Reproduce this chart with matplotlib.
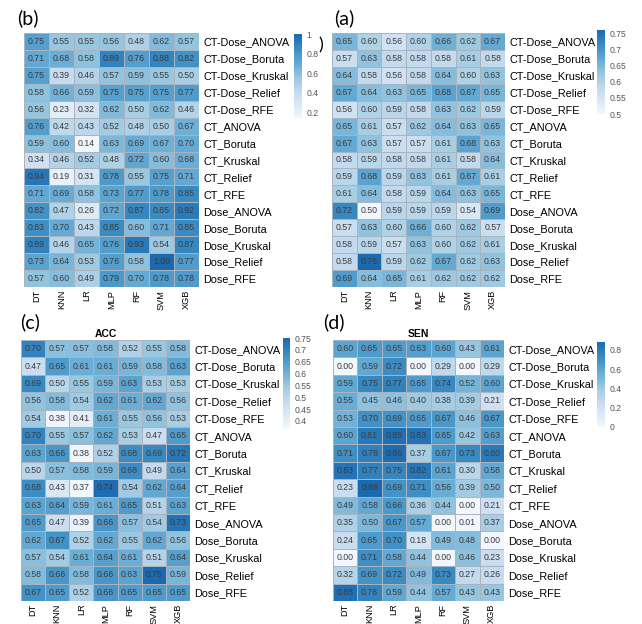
import matplotlib
matplotlib.use("Agg")
import matplotlib.pyplot as plt
import numpy as np
from matplotlib.cm import ScalarMappable
from matplotlib.colors import LinearSegmentedColormap, Normalize

W, H = 642, 624

models = ["DT", "KNN", "LR", "MLP", "RF", "SVM", "XGB"]
feature_sets = [
    "CT-Dose_ANOVA", "CT-Dose_Boruta", "CT-Dose_Kruskal", "CT-Dose_Relief", "CT-Dose_RFE",
    "CT_ANOVA", "CT_Boruta", "CT_Kruskal", "CT_Relief", "CT_RFE",
    "Dose_ANOVA", "Dose_Boruta", "Dose_Kruskal", "Dose_Relief", "Dose_RFE",
]

# panel (b)
values_b = [
    [0.75, 0.55, 0.55, 0.56, 0.48, 0.62, 0.57],
    [0.71, 0.68, 0.58, 0.89, 0.76, 0.88, 0.82],
    [0.75, 0.39, 0.46, 0.57, 0.59, 0.55, 0.50],
    [0.58, 0.66, 0.59, 0.75, 0.75, 0.75, 0.77],
    [0.56, 0.23, 0.32, 0.62, 0.50, 0.62, 0.46],
    [0.76, 0.42, 0.43, 0.52, 0.48, 0.50, 0.67],
    [0.59, 0.60, 0.14, 0.63, 0.69, 0.67, 0.70],
    [0.34, 0.46, 0.52, 0.48, 0.72, 0.60, 0.68],
    [0.94, 0.19, 0.31, 0.78, 0.55, 0.75, 0.71],
    [0.71, 0.69, 0.58, 0.73, 0.77, 0.78, 0.85],
    [0.82, 0.47, 0.26, 0.72, 0.87, 0.85, 0.92],
    [0.83, 0.70, 0.43, 0.85, 0.60, 0.71, 0.85],
    [0.89, 0.46, 0.65, 0.76, 0.93, 0.54, 0.87],
    [0.73, 0.64, 0.53, 0.76, 0.58, 1.00, 0.77],
    [0.57, 0.60, 0.49, 0.79, 0.70, 0.78, 0.78],
]
ticks_b = [0.2, 0.4, 0.6, 0.8, 1.0]
tick_labels_b = ["0.2", "0.4", "0.6", "0.8", "1"]

# panel (a)
values_a = [
    [0.65, 0.60, 0.56, 0.60, 0.66, 0.62, 0.67],
    [0.57, 0.63, 0.58, 0.58, 0.58, 0.61, 0.58],
    [0.64, 0.58, 0.56, 0.58, 0.64, 0.60, 0.63],
    [0.67, 0.64, 0.63, 0.65, 0.68, 0.67, 0.65],
    [0.56, 0.60, 0.59, 0.58, 0.63, 0.62, 0.59],
    [0.65, 0.61, 0.57, 0.62, 0.64, 0.63, 0.65],
    [0.67, 0.63, 0.57, 0.57, 0.61, 0.68, 0.63],
    [0.58, 0.59, 0.58, 0.58, 0.61, 0.58, 0.64],
    [0.59, 0.68, 0.59, 0.63, 0.61, 0.67, 0.61],
    [0.61, 0.64, 0.58, 0.59, 0.64, 0.63, 0.65],
    [0.72, 0.50, 0.59, 0.59, 0.59, 0.54, 0.69],
    [0.57, 0.63, 0.60, 0.66, 0.60, 0.62, 0.57],
    [0.58, 0.59, 0.57, 0.63, 0.60, 0.62, 0.61],
    [0.58, 0.76, 0.59, 0.62, 0.67, 0.62, 0.63],
    [0.69, 0.64, 0.65, 0.61, 0.62, 0.62, 0.62],
]
ticks_a = [0.5, 0.55, 0.6, 0.65, 0.7, 0.75]
tick_labels_a = ["0.5", "0.55", "0.6", "0.65", "0.7", "0.75"]

# panel (c) ACC
values_acc = [
    [0.70, 0.57, 0.57, 0.58, 0.52, 0.55, 0.58],
    [0.47, 0.65, 0.61, 0.61, 0.59, 0.58, 0.63],
    [0.69, 0.50, 0.55, 0.59, 0.63, 0.53, 0.53],
    [0.56, 0.58, 0.54, 0.62, 0.61, 0.62, 0.56],
    [0.54, 0.38, 0.41, 0.61, 0.55, 0.56, 0.53],
    [0.70, 0.55, 0.57, 0.62, 0.53, 0.47, 0.65],
    [0.63, 0.66, 0.38, 0.52, 0.68, 0.69, 0.72],
    [0.50, 0.57, 0.58, 0.59, 0.68, 0.49, 0.64],
    [0.68, 0.43, 0.37, 0.74, 0.54, 0.62, 0.64],
    [0.63, 0.64, 0.59, 0.61, 0.65, 0.51, 0.63],
    [0.65, 0.47, 0.39, 0.66, 0.57, 0.54, 0.73],
    [0.62, 0.67, 0.52, 0.62, 0.55, 0.62, 0.56],
    [0.57, 0.54, 0.61, 0.64, 0.61, 0.51, 0.64],
    [0.58, 0.66, 0.58, 0.66, 0.63, 0.75, 0.59],
    [0.67, 0.65, 0.52, 0.66, 0.65, 0.65, 0.65],
]
ticks_acc = [0.4, 0.45, 0.5, 0.55, 0.6, 0.65, 0.7, 0.75]
tick_labels_acc = ["0.4", "0.45", "0.5", "0.55", "0.6", "0.65", "0.7", "0.75"]

# panel (d) SEN
values_sen = [
    [0.60, 0.65, 0.65, 0.63, 0.60, 0.43, 0.61],
    [0.00, 0.59, 0.72, 0.00, 0.29, 0.00, 0.29],
    [0.59, 0.75, 0.77, 0.65, 0.74, 0.52, 0.60],
    [0.55, 0.45, 0.46, 0.40, 0.38, 0.39, 0.21],
    [0.53, 0.70, 0.69, 0.65, 0.67, 0.46, 0.67],
    [0.60, 0.81, 0.85, 0.83, 0.65, 0.42, 0.63],
    [0.71, 0.78, 0.86, 0.37, 0.67, 0.73, 0.80],
    [0.83, 0.77, 0.75, 0.82, 0.61, 0.30, 0.58],
    [0.23, 0.88, 0.69, 0.71, 0.56, 0.39, 0.50],
    [0.49, 0.58, 0.66, 0.36, 0.44, 0.00, 0.21],
    [0.35, 0.50, 0.67, 0.57, 0.00, 0.01, 0.37],
    [0.24, 0.65, 0.70, 0.18, 0.49, 0.48, 0.00],
    [0.00, 0.71, 0.58, 0.44, 0.00, 0.46, 0.23],
    [0.32, 0.69, 0.72, 0.49, 0.73, 0.27, 0.26],
    [0.85, 0.76, 0.59, 0.44, 0.57, 0.43, 0.43],
]
ticks_sen = [0.0, 0.2, 0.4, 0.6, 0.8]
tick_labels_sen = ["0", "0.2", "0.4", "0.6", "0.8"]

plt.rcParams["font.family"] = ["Liberation Sans", "DejaVu Sans"]

cmap = LinearSegmentedColormap.from_list("blues", plt.cm.Blues(np.linspace(0.03, 0.78, 256)))


def px_axes(fig, x0, y0, x1, y1):
    # boxes are given in picture pixels, top-left origin
    return fig.add_axes([x0 / W, 1 - y1 / H, (x1 - x0) / W, (y1 - y0) / H])


def draw_heatmap(fig, values, box, cbar_box, ticks, tick_labels, title=None):
    data = np.array(values)
    vmin, vmax = data.min(), data.max()
    n_rows, n_cols = data.shape

    ax = px_axes(fig, *box)
    ax.pcolormesh(data, cmap=cmap, vmin=vmin, vmax=vmax, edgecolors="#aab4be", linewidth=0.6)
    ax.set_xlim(0, n_cols)
    ax.set_ylim(n_rows, 0)
    for i in range(n_rows):
        for j in range(n_cols):
            ax.text(j + 0.5, i + 0.5, f"{data[i, j]:.2f}", ha="center", va="center",
                    fontsize=6.3, color="#3c3c3c")

    ax.yaxis.tick_right()
    ax.set_yticks(np.arange(n_rows) + 0.5, feature_sets, fontsize=7.8)
    ax.set_xticks(np.arange(n_cols) + 0.5, models, rotation=90, fontsize=6.6)
    ax.tick_params(axis="y", length=0, pad=3)
    ax.tick_params(axis="x", length=0, pad=2)
    for spine in ax.spines.values():
        spine.set_visible(False)
    if title:
        ax.set_title(title, fontsize=7.5, fontweight="bold", pad=2)

    cax = px_axes(fig, *cbar_box)
    cb = fig.colorbar(ScalarMappable(Normalize(vmin, vmax), cmap), cax=cax, ticks=ticks)
    cb.outline.set_visible(False)
    cb.ax.set_yticklabels(tick_labels)
    cb.ax.tick_params(length=0, labelsize=6.2, labelcolor="#555555", pad=3)
    return ax


fig = plt.figure(figsize=(W / 100, H / 100), dpi=100)

draw_heatmap(fig, values_b, (24, 33, 199, 287), (294, 34, 302, 118), ticks_b, tick_labels_b)
draw_heatmap(fig, values_a, (332, 33, 505, 287), (597, 30, 605, 114), ticks_a, tick_labels_a)
draw_heatmap(fig, values_acc, (21, 340, 190, 601), (283, 338, 290, 428), ticks_acc, tick_labels_acc, "ACC")
draw_heatmap(fig, values_sen, (333, 340, 504, 601), (597, 342, 605, 427), ticks_sen, tick_labels_sen, "SEN")

for label, x, y in [("(b)", 28, 18), ("(a)", 344, 18), ("(c)", 30, 322), ("(d)", 334, 322)]:
    fig.text(x / W, 1 - y / H, label, fontsize=14, ha="center", va="center", family="Lato")
fig.text(321 / W, 1 - 45 / H, ")", fontsize=13, ha="center", va="center", family="Lato")

fig.savefig("out.png", dpi=100)
